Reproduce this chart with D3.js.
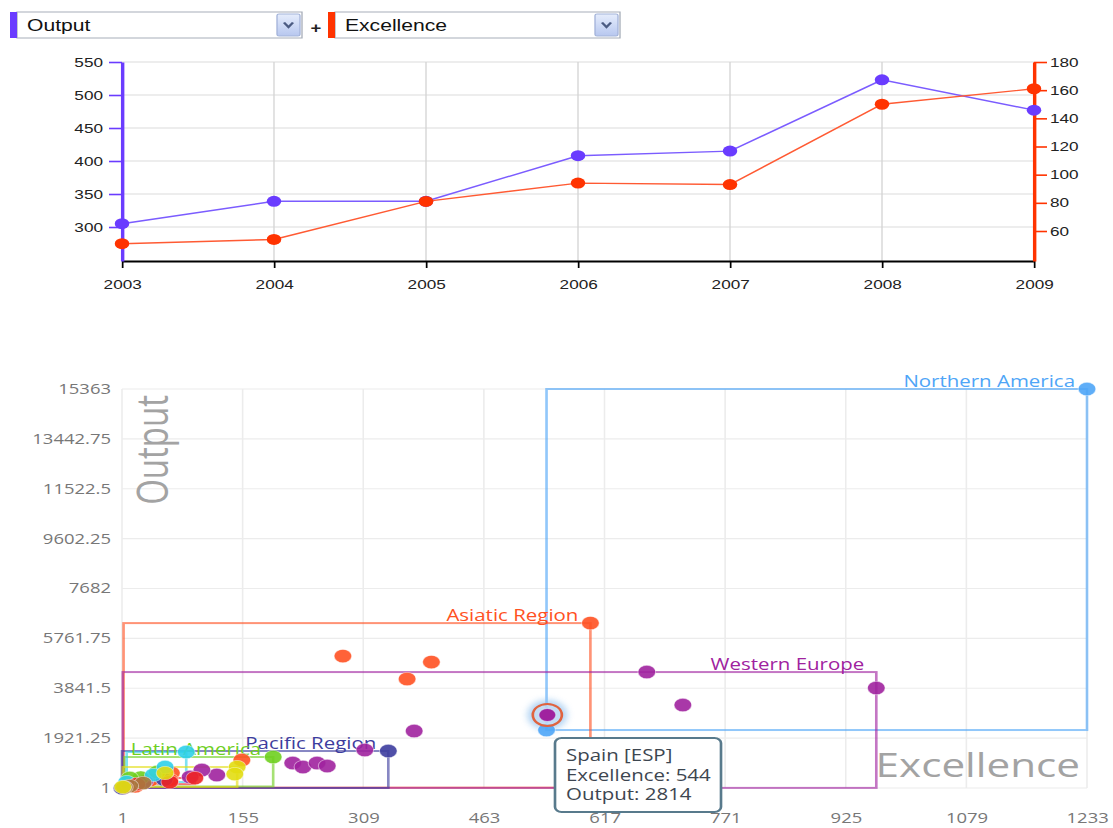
<!DOCTYPE html>
<html><head><meta charset="utf-8">
<script src="https://cdn.jsdelivr.net/npm/d3@7"></script>
<style>
html,body{margin:0;padding:0;background:#fff;overflow:hidden}
svg{display:block}
</style></head><body>
<svg id="chart" width="1113" height="828" viewBox="0 0 843 828" preserveAspectRatio="none"></svg>
<script>
// ---------- DATA ----------
const years = [2003, 2004, 2005, 2006, 2007, 2008, 2009];
const outputSeries = [305, 339, 339, 408, 415, 523, 477];
const excellenceSeries = [51, 54, 81, 94, 93, 150, 161];
const leftTicks = [300, 350, 400, 450, 500, 550];
const rightTicks = [60, 80, 100, 120, 140, 160, 180];
const leftDomain = [248.5, 550];
const rightDomain = [38.7, 180];

const selectLabels = ["Output", "Excellence"];

const xTickValues = [1, 155, 309, 463, 617, 771, 925, 1079, 1233];
const xTickLabels = ["1", "155", "309", "463", "617", "771", "925", "1079", "1233"];
const yTickValues = [1, 1921.25, 3841.5, 5761.75, 7682, 9602.25, 11522.5, 13442.75, 15363];
const yTickLabels = ["1", "1921.25", "3841.5", "5761.75", "7682", "9602.25", "11522.5", "13442.75", "15363"];

const regionNames = ["Northern America", "Asiatic Region", "Western Europe", "Pacific Region", "Latin America",
  "Eastern Europe", "Middle East", "Africa/Middle East", "Africa"];
const regionColors = ["#4ea5f7", "#ff5122", "#a0229f", "#3d3d9e", "#6fcf1f", "#2fd0ea", "#ee2424", "#a9793f", "#e2dd12"];
const labelledRegions = ["Northern America", "Asiatic Region", "Western Europe", "Pacific Region", "Latin America"];

const countryNames = [
  "United States", "Canada",
  "China", "Japan", "South Korea", "India", "Taiwan", "Singapore", "Malaysia", "Hong Kong", "Thailand", "Indonesia",
  "United Kingdom", "Germany", "France", "Spain", "Italy", "Netherlands", "Switzerland", "Sweden", "Belgium", "Denmark",
  "Austria", "Finland", "Norway", "Ireland", "Luxembourg",
  "Australia", "New Zealand", "Fiji",
  "Brazil", "Mexico", "Argentina", "Chile", "Colombia",
  "Russian Federation", "Poland", "Czech Republic", "Hungary",
  "Israel", "Saudi Arabia", "Egypt",
  "South Africa", "Nigeria", "Kenya",
  "Turkey", "Iran", "Tunisia", "Qatar"
];
const countryRegion = [
  "Northern America", "Northern America",
  "Asiatic Region", "Asiatic Region", "Asiatic Region", "Asiatic Region", "Asiatic Region", "Asiatic Region", "Asiatic Region", "Asiatic Region", "Asiatic Region", "Asiatic Region",
  "Western Europe", "Western Europe", "Western Europe", "Western Europe", "Western Europe", "Western Europe", "Western Europe", "Western Europe", "Western Europe", "Western Europe",
  "Western Europe", "Western Europe", "Western Europe", "Western Europe", "Western Europe",
  "Pacific Region", "Pacific Region", "Pacific Region",
  "Latin America", "Latin America", "Latin America", "Latin America", "Latin America",
  "Eastern Europe", "Eastern Europe", "Eastern Europe", "Eastern Europe",
  "Middle East", "Middle East", "Middle East",
  "Africa/Middle East", "Africa/Middle East", "Africa/Middle East",
  "Africa", "Africa", "Africa", "Africa"
];
const countryExcellence = [
  1233, 543,
  599, 283, 396, 365, 154, 64, 62, 37, 18, 3,
  964, 671, 717, 544, 374, 311, 219, 232, 250, 263,
  122, 103, 88, 30, 2,
  341, 55, 1,
  194, 46, 25, 11, 4,
  83, 56, 41, 7,
  94, 62, 20,
  28, 11, 4,
  148, 145, 56, 2
];
const countryOutput = [
  15363, 2233,
  6350, 5080, 4849, 4195, 1078, 578, 309, 309, 70, 15,
  3849, 4465, 3195, 2814, 2194, 1463, 963, 809, 963, 848,
  501, 694, 424, 250, 5,
  1425, 330, 3,
  1194, 617, 400, 386, 60,
  1386, 809, 501, 232,
  386, 232, 150,
  193, 78, 30,
  809, 540, 578, 39
];
const highlighted = "Spain";
const highlightCode = "ESP";

// ---------- SETUP ----------
const S = 1113 / 843;            // horizontal stretch of the picture
const X = px => px / S;
const svg = d3.select("#chart");
const PURPLE = "#6a3cff", RED = "#ff3300";
const ARIAL = "'Liberation Sans', Arial, sans-serif";
const OPEN = "'Open Sans', 'Noto Sans', sans-serif";

// ---------- SELECTORS ----------
const defs = svg.append("defs");
const grad = defs.append("linearGradient").attr("id", "btn").attr("x1", 0).attr("y1", 0).attr("x2", 0).attr("y2", 1);
grad.append("stop").attr("offset", "0%").attr("stop-color", "#e6edfc");
grad.append("stop").attr("offset", "100%").attr("stop-color", "#b7c7ef");
const blur = defs.append("filter").attr("id", "glow").attr("x", "-100%").attr("y", "-100%").attr("width", "300%").attr("height", "300%");
blur.append("feGaussianBlur").attr("stdDeviation", 3);

const selectors = [
  { x0: 10, color: PURPLE, label: selectLabels[0] },
  { x0: 328, color: RED, label: selectLabels[1] }
];
selectors.forEach(s => {
  const g = svg.append("g");
  g.append("rect").attr("x", X(s.x0 + 7)).attr("y", 12).attr("width", X(285)).attr("height", 26)
    .attr("fill", "#fff").attr("stroke", "#a7aeb9").attr("stroke-width", 1);
  g.append("rect").attr("x", X(s.x0)).attr("y", 12).attr("width", X(7)).attr("height", 26).attr("fill", s.color);
  const btnX = s.x0 + 267;
  g.append("rect").attr("x", X(btnX)).attr("y", 14).attr("width", X(23)).attr("height", 22).attr("rx", 1.5)
    .attr("fill", "url(#btn)").attr("stroke", "#a3b3d9");
  const cx = btnX + 11.5;
  g.append("path").attr("d", `M${X(cx - 4.5)},22.5L${X(cx)},27L${X(cx + 4.5)},22.5`)
    .attr("fill", "none").attr("stroke", "#4b5b82").attr("stroke-width", 2);
  g.append("text").attr("x", X(s.x0 + 17)).attr("y", 31).attr("font-family", ARIAL).attr("font-size", 16)
    .attr("fill", "#111").text(s.label);
});
svg.append("text").attr("x", X(316)).attr("y", 33).attr("text-anchor", "middle").attr("font-family", ARIAL)
  .attr("font-weight", "bold").attr("font-size", 14).attr("fill", "#222").text("+");

// ---------- TOP LINE CHART ----------
const xTop = d3.scalePoint().domain(years).range([X(122), X(1034)]);
const yL = d3.scaleLinear().domain(leftDomain).range([261, 62]);
const yR = d3.scaleLinear().domain(rightDomain).range([261, 62]);

const topG = svg.append("g");
topG.append("g").selectAll("line").data(leftTicks).join("line")
  .attr("x1", X(122)).attr("x2", X(1034)).attr("y1", d => yL(d)).attr("y2", d => yL(d))
  .attr("stroke", "#dcdcdc").attr("stroke-width", 1);
topG.append("g").selectAll("line").data(years).join("line")
  .attr("x1", d => xTop(d)).attr("x2", d => xTop(d)).attr("y1", 62).attr("y2", 261)
  .attr("stroke", "#d4d4d4").attr("stroke-width", 1);

const gB = topG.append("g").attr("transform", "translate(0,261)")
  .call(d3.axisBottom(xTop).tickSize(7).tickSizeOuter(0).tickPadding(12));
gB.select(".domain").attr("stroke", "#000").attr("stroke-width", 2);
gB.selectAll(".tick line").attr("stroke", "#000").attr("stroke-width", 1.3);
gB.selectAll("text").attr("font-family", ARIAL).attr("font-size", 13).attr("fill", "#222");

const gL = topG.append("g").attr("transform", `translate(${X(122)},0)`)
  .call(d3.axisLeft(yL).tickValues(leftTicks).tickSize(X(13)).tickSizeOuter(0).tickPadding(X(6)));
gL.select(".domain").attr("stroke", PURPLE).attr("stroke-width", 2.6);
gL.selectAll(".tick line").attr("stroke", PURPLE).attr("stroke-width", 1.6);
gL.selectAll("text").attr("font-family", ARIAL).attr("font-size", 13).attr("fill", "#222");

const gR = topG.append("g").attr("transform", `translate(${X(1034)},0)`)
  .call(d3.axisRight(yR).tickValues(rightTicks).tickSize(X(13)).tickSizeOuter(0).tickPadding(X(3)));
gR.select(".domain").attr("stroke", RED).attr("stroke-width", 2.6);
gR.selectAll(".tick line").attr("stroke", RED).attr("stroke-width", 1.6);
gR.selectAll("text").attr("font-family", ARIAL).attr("font-size", 13).attr("fill", "#222");

const series = [
  { vals: outputSeries, y: yL, line: "#7b5cff", dot: "#6a3cff" },
  { vals: excellenceSeries, y: yR, line: "#ff5a33", dot: "#ff3300" }
];
series.forEach(s => {
  const pts = years.map((yr, i) => [xTop(yr), s.y(s.vals[i])]);
  topG.append("path").attr("d", d3.line()(pts)).attr("fill", "none").attr("stroke", s.line).attr("stroke-width", 1.4);
  topG.append("g").selectAll("circle").data(pts).join("circle")
    .attr("cx", d => d[0]).attr("cy", d => d[1]).attr("r", 5.5).attr("fill", s.dot);
});

// ---------- BOTTOM SCATTER ----------
const xB = d3.scaleLinear().domain([1, 1233]).range([X(122), X(1087)]);
const yB = d3.scaleLinear().domain([1, 15363]).range([788, 389]);
const sc = svg.append("g");

sc.append("g").selectAll("line").data(xTickValues).join("line")
  .attr("x1", d => xB(d)).attr("x2", d => xB(d)).attr("y1", 389).attr("y2", 788)
  .attr("stroke", "#ececec").attr("stroke-width", 1.2);
sc.append("g").selectAll("line").data(yTickValues).join("line")
  .attr("x1", X(122)).attr("x2", X(1087)).attr("y1", d => yB(d)).attr("y2", d => yB(d))
  .attr("stroke", "#ececec").attr("stroke-width", 1.2);

const axY = sc.append("g").attr("transform", `translate(${X(122)},0)`)
  .call(d3.axisLeft(yB).tickValues(yTickValues).tickSize(0).tickPadding(X(11)).tickFormat((d, i) => yTickLabels[i]));
axY.select(".domain").remove();
axY.selectAll("text").attr("font-family", OPEN).attr("font-size", 14).attr("fill", "#777");
const axX = sc.append("g").attr("transform", "translate(0,788)")
  .call(d3.axisBottom(xB).tickValues(xTickValues).tickSize(0).tickPadding(25).tickFormat((d, i) => xTickLabels[i]));
axX.select(".domain").remove();
axX.selectAll("text").attr("font-family", OPEN).attr("font-size", 14).attr("fill", "#777");

// axis titles
sc.append("text").attr("transform", `translate(${X(168)},395) rotate(-90)`).attr("text-anchor", "end")
  .attr("font-family", OPEN).attr("font-size", 33).attr("fill", "#a3a3a3").text("Output");
sc.append("text").attr("x", X(1080)).attr("y", 777).attr("text-anchor", "end")
  .attr("font-family", OPEN).attr("font-size", 32).attr("fill", "#a3a3a3").text("Excellence");

const countries = countryNames.map((n, i) => ({
  name: n, region: countryRegion[i], e: countryExcellence[i], o: countryOutput[i]
}));
const color = d3.scaleOrdinal().domain(regionNames).range(regionColors);

// region bounding boxes
const boxes = regionNames.map(r => {
  const cs = countries.filter(c => c.region === r);
  return { r, x0: d3.min(cs, c => c.e), x1: d3.max(cs, c => c.e), y0: d3.min(cs, c => c.o), y1: d3.max(cs, c => c.o) };
});
sc.append("g").selectAll("rect").data(boxes).join("rect")
  .attr("x", d => xB(d.x0)).attr("y", d => yB(d.y1))
  .attr("width", d => xB(d.x1) - xB(d.x0)).attr("height", d => yB(d.y0) - yB(d.y1))
  .attr("fill", "none").attr("stroke", d => color(d.r)).attr("stroke-opacity", 0.62).attr("stroke-width", 2);

sc.append("g").selectAll("text").data(boxes.filter(b => labelledRegions.includes(b.r))).join("text")
  .attr("x", d => xB(d.x1) - X(12)).attr("y", d => yB(d.y1) - 2).attr("text-anchor", "end")
  .attr("font-family", OPEN).attr("font-size", 15.5).attr("fill", d => color(d.r)).text(d => d.r);

// highlight glow
const hc = countries.find(c => c.name === highlighted);
sc.append("circle").attr("cx", xB(hc.e)).attr("cy", yB(hc.o)).attr("r", 15)
  .attr("fill", "#8fc0ee").attr("opacity", 0.7).attr("filter", "url(#glow)");

sc.append("g").selectAll("circle").data(countries).join("circle")
  .attr("cx", d => xB(d.e)).attr("cy", d => yB(d.o)).attr("r", 6.7)
  .attr("fill", d => color(d.region)).attr("fill-opacity", 0.9)
  .attr("stroke", "#fff").attr("stroke-opacity", 0.5).attr("stroke-width", 0.8);

sc.append("circle").attr("cx", xB(hc.e)).attr("cy", yB(hc.o)).attr("r", 11)
  .attr("fill", "#cfe3f6").attr("fill-opacity", 0.6).attr("stroke", "#e0633f").attr("stroke-width", 2);
sc.append("circle").attr("cx", xB(hc.e)).attr("cy", yB(hc.o)).attr("r", 6)
  .attr("fill", color(hc.region));

// tooltip
const tt = sc.append("g");
tt.append("rect").attr("x", X(555)).attr("y", 738).attr("width", X(166)).attr("height", 74).attr("rx", 5)
  .attr("fill", "#fff").attr("stroke", "#587a8c").attr("stroke-width", 2);
const ttLines = [`${hc.name} [${highlightCode}]`, `Excellence: ${hc.e}`, `Output: ${hc.o}`];
tt.selectAll("text").data(ttLines).join("text")
  .attr("x", X(566)).attr("y", (d, i) => 761 + i * 19.7)
  .attr("font-family", OPEN).attr("font-size", 15.5).attr("fill", "#3d4650").text(d => d);
</script></body></html>
